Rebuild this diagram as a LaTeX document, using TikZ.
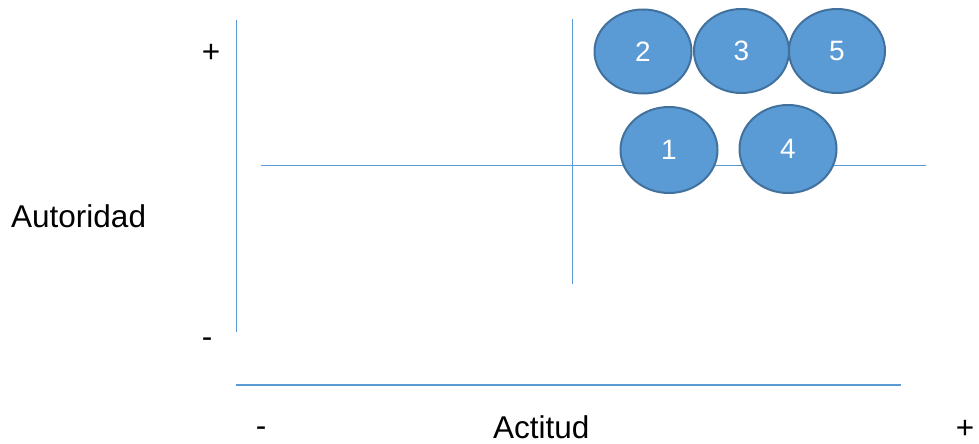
\documentclass[tikz,border=0pt]{standalone}
\usepackage{fontspec}
\setmainfont{Liberation Sans}
\usetikzlibrary{shapes.geometric}
\definecolor{axisblue}{HTML}{5B9BD5}
\definecolor{ellfill}{HTML}{5B9BD5}
\definecolor{elldraw}{HTML}{41719C}
\tikzset{
  axisline/.style={draw=axisblue, line width=1.5pt},
  ell/.style={ellipse, draw=elldraw, fill=ellfill, line width=2pt, inner sep=0pt,
     minimum width=97pt, minimum height=84pt, text=white,
     font=\fontsize{28}{32}\selectfont},
  lbl/.style={inner sep=0pt, font=\fontsize{31.5}{36}\selectfont, text=black}
}
\begin{document}
\begin{tikzpicture}[x=1pt,y=-1pt]
\useasboundingbox (0,0) rectangle (979,444);
% axis lines
\coordinate (lvT) at (236.5,20);
\coordinate (lvB) at (236.5,332);
\coordinate (bhL) at (236,385);
\coordinate (bhR) at (901,385);
\coordinate (ihL) at (261,165.5);
\coordinate (ihR) at (926,165.5);
\coordinate (ivT) at (572.5,19.5);
\coordinate (ivB) at (572.5,284);
\draw[axisline] (lvT) -- (lvB);
\draw[axisline] (bhL) -- (bhR);
\draw[axisline] (ihL) -- (ihR);
\draw[axisline] (ivT) -- (ivB);
% ellipses
\node[ell] (e2) at (643,51.5) {2};
\node[ell, minimum width=95pt] (e3) at (741.5,51) {3};
\node[ell, minimum width=96pt] (e5) at (837,51) {5};
\node[ell, minimum height=86pt] (e1) at (669,150) {1};
\node[ell, minimum height=88pt] (e4) at (788,149) {4};
% labels
\node[lbl] (plusA) at (211,53) {+};
\node[lbl] (minusA) at (207,343) {-};
\node[lbl, anchor=base west] (aut) at (11,227) {Autoridad};
\node[lbl] (minusB) at (261,432) {-};
\node[lbl, anchor=base west] (act) at (493,438) {Actitud};
\node[lbl] (plusB) at (965,429) {+};
\end{tikzpicture}
\end{document}
